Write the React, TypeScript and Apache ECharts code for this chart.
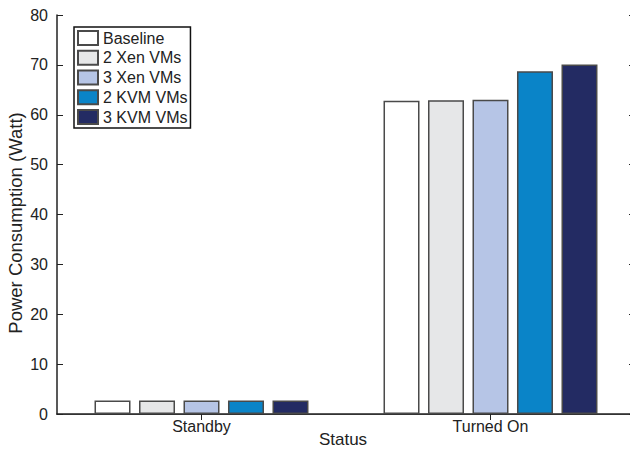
import React, { useEffect, useRef } from "react";
import * as echarts from "echarts";

// Measured power draw per host state
const categories = ["Standby", "Turned On"];
const seriesNames = ["Baseline", "2 Xen VMs", "3 Xen VMs", "2 KVM VMs", "3 KVM VMs"];
const baseline = [2.7, 62.8];
const xen2 = [2.7, 62.9];
const xen3 = [2.7, 63.0];
const kvm2 = [2.7, 68.7];
const kvm3 = [2.7, 70.1];
const seriesValues = [baseline, xen2, xen3, kvm2, kvm3];
const seriesColors = ["#ffffff", "#e6e7e8", "#b6c5e6", "#0a84c8", "#232b63"];

const yMin = 0;
const yMax = 80;
const yStep = 10;

const FONT = "'Liberation Sans', Arial, Helvetica, sans-serif";
const INK = "#222222";

export default function App() {
  const ref = useRef<HTMLDivElement>(null);

  useEffect(() => {
    if (!ref.current) return;
    const chart = echarts.init(ref.current, null, { renderer: "svg" });

    const valueAxisBase = {
      type: "value" as const,
      min: yMin,
      max: yMax,
      interval: yStep,
      splitLine: { show: false },
      axisLine: { show: true, lineStyle: { color: INK, width: 1.5 } },
      axisTick: { show: true, inside: true, length: 6, lineStyle: { color: INK } },
    };

    chart.setOption({
      animation: false,
      backgroundColor: "#ffffff",
      textStyle: { fontFamily: FONT },
      grid: {
        left: 57,
        top: 15,
        width: 578,
        height: 399,
        containLabel: false,
        outerBoundsMode: "none",
      },
      legend: {
        orient: "vertical",
        left: 74,
        top: 27,
        data: seriesNames,
        icon: "rect",
        itemWidth: 20,
        itemHeight: 14,
        itemGap: 3.75,
        padding: [3, 3, 3, 3],
        backgroundColor: "#ffffff",
        borderColor: "#111111",
        borderWidth: 1.5,
        borderRadius: 0,
        selectedMode: false,
        textStyle: { fontFamily: FONT, fontSize: 16, color: INK, lineHeight: 16 },
      },
      xAxis: [
        {
          type: "category",
          data: categories,
          position: "bottom",
          axisLine: { show: true, lineStyle: { color: INK, width: 1.5 } },
          axisTick: { show: true, inside: true, alignWithLabel: true, length: 6, lineStyle: { color: INK } },
          axisLabel: { fontFamily: FONT, fontSize: 16, color: INK, margin: 4 },
          splitLine: { show: false },
        },
        {
          type: "category",
          data: categories,
          position: "top",
          axisLine: { show: true, lineStyle: { color: "#333333", width: 1 } },
          axisTick: { show: true, inside: true, alignWithLabel: true, length: 6, lineStyle: { color: INK } },
          axisLabel: { show: false },
          splitLine: { show: false },
        },
      ],
      yAxis: [
        {
          ...valueAxisBase,
          position: "left",
          axisLabel: { fontFamily: FONT, fontSize: 16, color: INK, margin: 9 },
        },
        {
          ...valueAxisBase,
          position: "right",
          axisLabel: { show: false },
        },
      ],
      graphic: [
        {
          type: "text",
          x: 15,
          y: 223,
          rotation: Math.PI / 2,
          style: {
            text: "Power Consumption (Watt)",
            font: `18.5px ${FONT}`,
            fill: INK,
            textAlign: "center",
            textVerticalAlign: "middle",
          },
        },
        {
          type: "text",
          x: 343,
          y: 439.5,
          style: {
            text: "Status",
            font: `17px ${FONT}`,
            fill: INK,
            textAlign: "center",
            textVerticalAlign: "middle",
          },
        },
      ],
      series: seriesNames.map((name, i) => ({
        name,
        type: "bar",
        xAxisIndex: 0,
        yAxisIndex: 0,
        data: seriesValues[i],
        barWidth: 36,
        barGap: "23.6%",
        itemStyle: {
          color: seriesColors[i],
          borderColor: "#4a4a4a",
          borderWidth: 1.5,
        },
      })),
    });

    return () => chart.dispose();
  }, []);

  return (
    <div
      ref={ref}
      style={{ position: "fixed", left: 0, top: 0, width: 630, height: 449, overflow: "hidden", background: "#fff" }}
    />
  );
}
